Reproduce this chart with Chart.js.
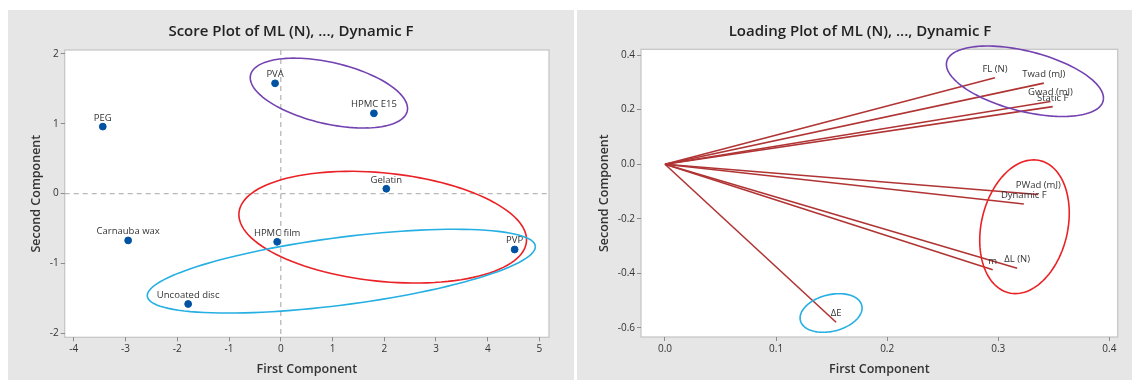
<!DOCTYPE html>
<html>
<head>
<meta charset="utf-8">
<script src="https://cdn.jsdelivr.net/npm/chart.js@4"></script>
<style>
body{margin:0;background:#fff;width:1132px;height:380px;overflow:hidden;position:relative}
.panel{position:absolute;top:10px;height:370px;background:#e6e6e6}
#p1{left:8px;width:566px}
#p2{left:577px;width:555px}
canvas{display:block}
</style>
</head>
<body>
<div class="panel" id="p1"><canvas id="scoreChart" width="566" height="370"></canvas></div>
<div class="panel" id="p2"><canvas id="loadChart" width="555" height="370"></canvas></div>
<script>
// score plot
const scoreNames = ['PVA','HPMC E15','PEG','Gelatin','Carnauba wax','HPMC film','PVP','Uncoated disc'];
const scoreX = [-0.11, 1.80, -3.44, 2.04, -2.95, -0.07, 4.52, -1.79];
const scoreY = [1.58, 1.15, 0.96, 0.07, -0.67, -0.69, -0.80, -1.58];
const scoreXTicks = [-4,-3,-2,-1,0,1,2,3,4,5];
const scoreYTicks = [-2,-1,0,1,2];

// loading plot
const loadNames = ['FL (N)','Twad (mJ)','Gwad (mJ)','Static F','PWad (mJ)','Dynamic F','m','ΔL (N)','ΔE'];
const loadX = [0.297, 0.341, 0.347, 0.349, 0.336, 0.323, 0.295, 0.317, 0.154];
const loadY = [0.317, 0.297, 0.230, 0.211, -0.111, -0.146, -0.387, -0.381, -0.579];
const loadXTicks = [0, 0.1, 0.2, 0.3, 0.4];
const loadYTicks = [-0.6,-0.4,-0.2,0,0.2,0.4];

// group rings (data units): centre, half width, y shift at the right end, half height
const ringColors = ['#7442b0','#ea2226','#25afe2'];
const scoreRingCx = [0.93, 1.97, 1.17];
const scoreRingCy = [1.44, -0.48, -1.11];
const scoreRingW = [1.52, 2.78, 3.75];
const scoreRingD = [-0.22, -0.18, 0.35];
const scoreRingH = [0.50, 0.80, 0.60];
const loadRingCx = [0.324, 0.3236, 0.1495];
const loadRingCy = [0.304, -0.229, -0.545];
const loadRingW = [0.0707, 0.0403, 0.0279];
const loadRingD = [-0.062, 0.050, 0.0183];
const loadRingH = [0.129, 0.245, 0.0707];

const FONT = "'Open Sans', 'Noto Sans', sans-serif";

const panelPlugin = {
    id: 'panel',
    beforeDraw(chart, args, opts) {
        const ctx = chart.ctx, a = chart.chartArea;
        ctx.save();
        ctx.fillStyle = '#fff';
        ctx.fillRect(a.left, a.top, a.right - a.left, a.bottom - a.top);
        ctx.strokeStyle = '#c4c4c4';
        ctx.lineWidth = 1.2;
        ctx.strokeRect(a.left, a.top, a.right - a.left, a.bottom - a.top);
        ctx.fillStyle = '#222';
        ctx.font = '600 15px ' + FONT;
        ctx.textAlign = 'center';
        ctx.textBaseline = 'middle';
        ctx.fillText(opts.text, opts.x, 22);
        ctx.restore();
    },
    beforeDatasetsDraw(chart, args, opts) {
        if (!opts.refLines) return;
        const ctx = chart.ctx, a = chart.chartArea;
        const x0 = chart.scales.x.getPixelForValue(0);
        const y0 = chart.scales.y.getPixelForValue(0);
        ctx.save();
        ctx.strokeStyle = '#b8b8b8';
        ctx.lineWidth = 1.3;
        ctx.setLineDash([5, 4]);
        ctx.beginPath();
        ctx.moveTo(x0, a.top); ctx.lineTo(x0, a.bottom);
        ctx.moveTo(a.left, y0); ctx.lineTo(a.right, y0);
        ctx.stroke();
        ctx.restore();
    },
    afterDatasetsDraw(chart, args, opts) {
        const ctx = chart.ctx, sx = chart.scales.x, sy = chart.scales.y;
        ctx.save();
        // labels above points
        ctx.font = '9.5px ' + FONT;
        ctx.fillStyle = '#333';
        ctx.textAlign = 'center';
        ctx.textBaseline = 'bottom';
        opts.names.forEach((n, i) => {
            ctx.fillText(n, sx.getPixelForValue(opts.xs[i]), sy.getPixelForValue(opts.ys[i]) - 4);
        });
        // rings
        ctx.lineWidth = 1.6;
        opts.rings.cx.forEach((cx, i) => {
            const w = opts.rings.w[i], d = opts.rings.d[i], h = opts.rings.h[i];
            const q = Math.sqrt(h * h - d * d);
            ctx.strokeStyle = ringColors[i];
            ctx.beginPath();
            for (let k = 0; k <= 120; k++) {
                const t = k / 120 * Math.PI * 2;
                const px = sx.getPixelForValue(cx + w * Math.cos(t));
                const py = sy.getPixelForValue(opts.rings.cy[i] + d * Math.cos(t) + q * Math.sin(t));
                if (k === 0) ctx.moveTo(px, py); else ctx.lineTo(px, py);
            }
            ctx.stroke();
        });
        ctx.restore();
    }
};

function axis(min, max, ticks, title, fitSize, isY, titlePad) {
    return {
        type: 'linear',
        min: min,
        max: max,
        afterBuildTicks: s => { s.ticks = ticks.map(v => ({value: v})); },
        afterFit: s => { if (isY) s.width = fitSize; else s.height = fitSize; },
        border: {display: false},
        grid: {display: true, drawOnChartArea: false, drawTicks: true, tickLength: 4, color: '#8c8c8c'},
        ticks: {
            color: '#333', padding: 2,
            font: {family: FONT, size: 10},
            callback: v => isY && max < 1 || !isY && max < 1 ? v.toFixed(1) : v
        },
        title: {
            display: true, text: title, color: '#333',
            font: {family: FONT, size: 12.5, weight: '600'},
            padding: titlePad
        }
    };
}

// left chart
new Chart(document.getElementById('scoreChart').getContext('2d'), {
    type: 'scatter',
    data: {
        datasets: [{
            data: scoreX.map((x, i) => ({x: x, y: scoreY[i]})),
            backgroundColor: '#0052a3',
            borderColor: '#0052a3',
            pointRadius: 3.4
        }]
    },
    options: {
        responsive: false,
        animation: false,
        devicePixelRatio: 1,
        layout: {padding: {top: 40, left: 0, right: 25, bottom: 0}},
        plugins: {
            legend: {display: false},
            tooltip: {enabled: false},
            panel: {
                text: 'Score Plot of ML (N), ..., Dynamic F', x: 283, refLines: true,
                names: scoreNames, xs: scoreX, ys: scoreY,
                rings: {cx: scoreRingCx, cy: scoreRingCy, w: scoreRingW, d: scoreRingD, h: scoreRingH}
            }
        },
        scales: {
            x: axis(-4.176, 5.184, scoreXTicks, 'First Component', 42.7, false, {top: 0, bottom: 3.2}),
            y: axis(-2.057, 2.057, scoreYTicks, 'Second Component', 56.7, true, {top: 20.8, bottom: 0})
        }
    },
    plugins: [panelPlugin]
});

// right chart
let loadSets = loadX.map((x, i) => ({
    type: 'line',
    data: [{x: 0, y: 0}, {x: x, y: loadY[i]}],
    borderColor: '#b03434',
    borderWidth: 1.6,
    pointRadius: 0,
    fill: false
}));

new Chart(document.getElementById('loadChart').getContext('2d'), {
    type: 'scatter',
    data: {datasets: loadSets},
    options: {
        responsive: false,
        animation: false,
        devicePixelRatio: 1,
        layout: {padding: {top: 39.3, left: 0, right: 14.3, bottom: 0}},
        plugins: {
            legend: {display: false},
            tooltip: {enabled: false},
            panel: {
                text: 'Loading Plot of ML (N), ..., Dynamic F', x: 283, refLines: false,
                names: loadNames, xs: loadX, ys: loadY,
                rings: {cx: loadRingCx, cy: loadRingCy, w: loadRingW, d: loadRingD, h: loadRingH}
            }
        },
        scales: {
            x: axis(-0.0216, 0.4075, loadXTicks, 'First Component', 43, false, {top: 0, bottom: 3.2}),
            y: axis(-0.633, 0.421, loadYTicks, 'Second Component', 64, true, {top: 20.3, bottom: 0})
        }
    },
    plugins: [panelPlugin]
});
</script>
</body>
</html>
